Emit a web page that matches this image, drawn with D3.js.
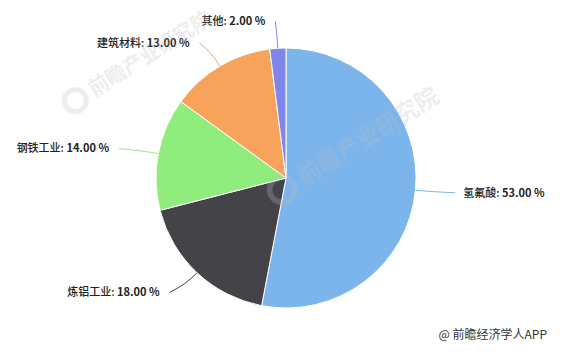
<!DOCTYPE html>
<html>
<head>
<meta charset="utf-8">
<script src="https://cdn.jsdelivr.net/npm/d3@7"></script>
<style>
  html, body { margin: 0; padding: 0; background: #fff; }
  svg { display: block; font-family: "Noto Sans CJK SC", "Noto Sans", "DejaVu Sans", sans-serif; }
</style>
</head>
<body>
<svg id="chart" width="561" height="351"></svg>
<script>
// Share of consumption by end use (%)
const categories = ["氢氟酸", "炼铝工业", "钢铁工业", "建筑材料", "其他"];
const shares = [53, 18, 14, 13, 2];
const colors = ["#7cb5ec", "#434348", "#90ed7d", "#f7a35c", "#8085e9"];
const sourceNote = "@ 前瞻经济学人APP";
const watermarkText = "前瞻产业研究院";

const width = 561, height = 351;
const cx = 286, cy = 178, radius = 130;
const labelRx = 170, labelRy = 157;

const svg = d3.select("#chart");

const pie = d3.pie().sort(null).value(d => d)(shares);
const arc = d3.arc().innerRadius(0).outerRadius(radius);

const g = svg.append("g").attr("transform", `translate(${cx},${cy})`);

g.selectAll("path.slice")
  .data(pie)
  .join("path")
  .attr("class", "slice")
  .attr("d", arc)
  .attr("fill", (d, i) => colors[i])
  .attr("stroke", "#ffffff")
  .attr("stroke-width", 1);

// labels with soft connectors
const fmt = d3.format(".2f");
const labels = g.selectAll("g.lbl").data(pie).join("g").attr("class", "lbl");

labels.each(function (d, i) {
  const a = (d.startAngle + d.endAngle) / 2;
  const s = Math.sin(a), c = -Math.cos(a);
  const right = s > 0;
  const edge = [radius * s, radius * c];
  const bend = [(radius + 16) * s, (radius + 16) * c];
  const end = [labelRx * s, labelRy * c];
  const sel = d3.select(this);
  sel.append("path")
    .attr("d", `M${end[0]},${end[1]} Q${bend[0]},${bend[1]} ${edge[0]},${edge[1]}`)
    .attr("fill", "none")
    .attr("stroke", colors[i])
    .attr("stroke-width", 1);
  const t = sel.append("text")
    .attr("x", end[0] + (right ? 8 : -10))
    .attr("y", end[1])
    .attr("dy", "0.35em")
    .attr("text-anchor", right ? "start" : "end")
    .attr("font-size", 11)
    .attr("fill", "#222");
  t.append("tspan").attr("font-weight", "500").text(`${categories[i]}: `);
  t.append("tspan").attr("font-weight", "bold").text(`${fmt(d.data)} %`);
});

// faint brand watermark laid over the chart
const wm = svg.append("g").attr("fill", "#bdbdbd").attr("opacity", 0.28)
  .attr("font-weight", "bold").attr("pointer-events", "none");
[[150, 54, 20], [368, 136, 23]].forEach(([x, y, s]) => {
  const w = wm.append("g").attr("transform", `translate(${x},${y}) rotate(-32)`);
  w.append("circle").attr("cx", -s * 4.4).attr("cy", 0).attr("r", s * 0.55)
    .attr("fill", "none").attr("stroke", "#bdbdbd").attr("stroke-width", s * 0.25);
  w.append("text").attr("text-anchor", "middle").attr("dy", "0.35em")
    .attr("font-size", s).text(watermarkText);
});

svg.append("text")
  .attr("x", 547).attr("y", 339)
  .attr("text-anchor", "end")
  .attr("font-size", 12)
  .attr("fill", "#333")
  .text(sourceNote);
</script>
</body>
</html>
